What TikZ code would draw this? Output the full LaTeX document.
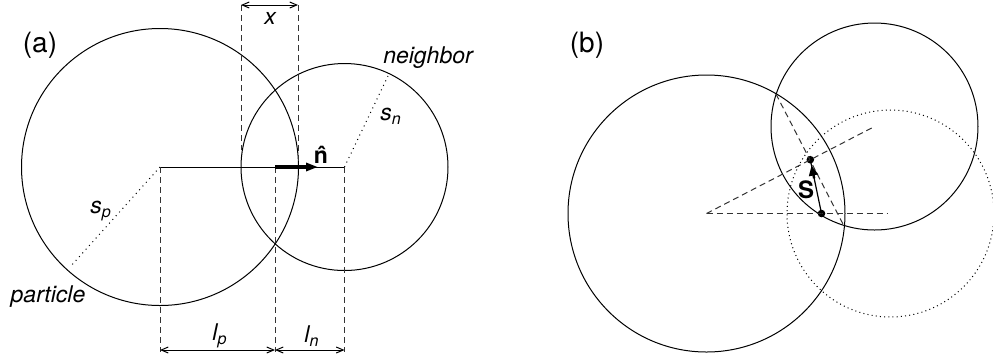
\documentclass[tikz,border=0pt]{standalone}
\usepackage{fontspec}
\setmainfont{TeX Gyre Heros}
\usetikzlibrary{arrows.meta, positioning}
\tikzstyle{body} = [draw=black, line width=0.5bp]
\tikzstyle{ghost} = [draw=black, line width=0.5bp, dash pattern=on 0.5bp off 1.6bp]
\tikzstyle{guide} = [draw=black!80, line width=0.5bp, dash pattern=on 3bp off 2bp]
\tikzstyle{radline} = [draw=black, line width=0.5bp, dash pattern=on 0.5bp off 2bp]
\tikzstyle{dim} = [{Straight Barb[length=3.5bp,width=3bp]}-{Straight Barb[length=3.5bp,width=3bp]}, line width=0.5bp]
\tikzstyle{unitvec} = [-{Triangle[length=6bp,width=4bp]}, line width=1.6bp]
\tikzstyle{svec} = [-{Triangle[length=5bp,width=4.5bp]}, line width=1.2bp]
\tikzstyle{lbl} = [inner sep=0pt, font=\fontsize{11.5bp}{14bp}\selectfont\itshape]
\tikzstyle{panel} = [inner sep=0pt, font=\fontsize{14bp}{16bp}\selectfont]
\tikzstyle{pt} = [circle, fill=black, inner sep=0pt, minimum size=3.8bp]
\begin{document}
\begin{tikzpicture}[x=0.5bp, y=-0.5bp]
    \useasboundingbox (0,0) rectangle (993,360);
    % (a) centres and guide points
    \coordinate (cp) at (160,167);
    \coordinate (cn) at (344.5,167);
    \coordinate (ov) at (275,167);
    \coordinate (xl) at (241,150);
    \coordinate (xr) at (298,167);
    \coordinate (xlt) at (241,5);
    \coordinate (xrt) at (298,5);
    \coordinate (cpb) at (160,352);
    \coordinate (ovb) at (275,352);
    \coordinate (cnb) at (344.5,352);
    \coordinate (spend) at (70,267);
    \coordinate (snend) at (388,76);
    \coordinate (nend) at (318,167);
    % (a) circles
    \draw[body] (cp) circle[radius=138.5];
    \draw[body] (cn) circle[radius=103.5];
    \draw[body] (cp) -- (cn);
    \draw[radline] (cp) -- (spend);
    \draw[radline] (cn) -- (snend);
    % (a) guides
    \draw[guide] (xlt) -- (xl);
    \draw[guide] (xrt) -- (xr);
    \draw[guide] (cp) -- (cpb);
    \draw[guide] (ov) -- (ovb);
    \draw[guide] (cn) -- (cnb);
    % (a) arrows
    \draw[dim] (xlt) -- (xrt);
    \draw[dim] ([yshift=1bp]cpb) -- ([yshift=1bp]ovb);
    \draw[dim] ([yshift=1bp]ovb) -- ([yshift=1bp]cnb);
    \draw[unitvec] (ov) -- (nend);
    % (a) labels
    \node[panel] (pa) at (40,45) {(a)};
    \node[lbl] (xlab) at (270,18) {x};
    \node[lbl] (nlab) at (428,58) {neighbor};
    \node[lbl] (plab) at (48,297) {particle};
    \node[lbl] (splab) at (101,211) {s\textsubscript{p}};
    \node[lbl] (snlab) at (391,116) {s\textsubscript{n}};
    \node[lbl] (lplab) at (220,336) {l\textsubscript{p}};
    \node[lbl] (lnlab) at (312,336) {l\textsubscript{n}};
    \node[lbl, font=\fontsize{11.5bp}{14bp}\selectfont\bfseries] (nhat) at (321,155) {\^{n}};
    % (b) centres
    \coordinate (bp) at (706.5,213.5);
    \coordinate (bu) at (874.5,126.5);
    \coordinate (bg) at (890.5,213.5);
    \coordinate (ra) at (776,94);
    \coordinate (rb) at (844,226);
    \node[pt] (p1) at (810.3,159.7) {};
    \node[pt] (p2) at (821.5,213.5) {};
    % (b) circles
    \draw[body] (bp) circle[radius=138.5];
    \draw[body] (bu) circle[radius=103.5];
    \draw[ghost] (bg) circle[radius=103.5];
    % (b) guides
    \draw[guide] (bp) -- (bu);
    \draw[guide] (bp) -- ([xshift=-1.5bp]bg);
    \draw[guide] (ra) -- (rb);
    % (b) displacement
    \draw[line width=0.6bp] (p2.center) -- (p1.center);
    \draw[svec, shorten >=3bp, shorten <=18bp] (p2.center) -- (p1.center);
    \node[panel] (pb) at (587,45) {(b)};
    \node[panel, font=\fontsize{12bp}{14bp}\selectfont\bfseries] (slab) at (806,190) {S};
\end{tikzpicture}
\end{document}
